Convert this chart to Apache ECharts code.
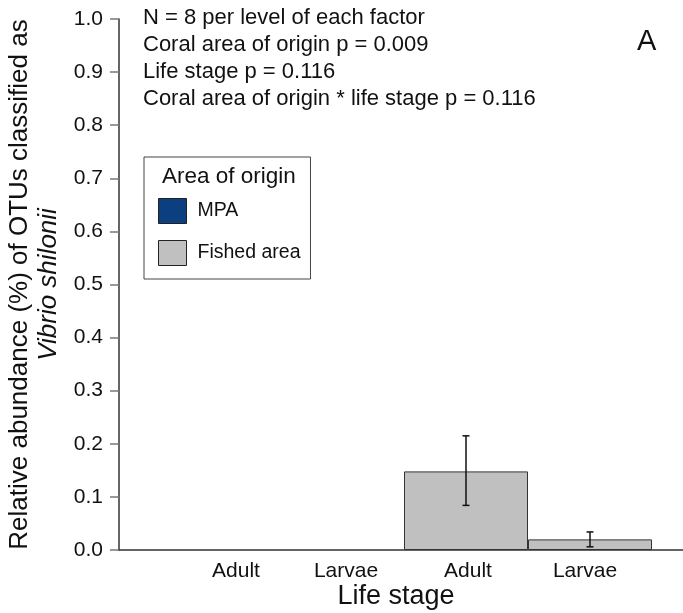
<!DOCTYPE html>
<html>
<head>
<meta charset="utf-8">
<script src="https://cdn.jsdelivr.net/npm/echarts@6/dist/echarts.min.js"></script>
<style>
  html, body { margin: 0; padding: 0; background: #fff; }
  #chart { width: 683px; height: 613px; }
</style>
</head>
<body>
<div id="chart"></div>
<script>
// Life stage categories (MPA pair, then fished-area pair)
const lifeStages = ['Adult', 'Larvae', 'Adult', 'Larvae'];
// Mean relative abundance (%) per area of origin
const mpaMean = [0, 0, '-', '-'];
const fishedMean = ['-', '-', 0.148, 0.020];
// Error bar ends for the fished-area bars
const fishedLow = ['-', '-', 0.084, 0.006];
const fishedHigh = ['-', '-', 0.215, 0.034];
// Statistics printed in the top-left corner
const statLines = [
  'N = 8 per level of each factor',
  'Coral area of origin p = 0.009',
  'Life stage p = 0.116',
  'Coral area of origin * life stage p = 0.116'
];
const seriesNames = ['MPA', 'Fished area'];

const FONT = '"Liberation Sans", Arial, Helvetica, sans-serif';
const INK = '#111';

const errorData = [];
fishedLow.forEach((lo, i) => {
  if (lo !== '-') errorData.push([i, lo, fishedHigh[i]]);
});

// horizontal nudge (px) of each category name away from its slot centre
const labelShift = [18, 4, 2, -5];
const labelPadding = s => (s >= 0 ? [0, 0, 0, 2 * s] : [0, -2 * s, 0, 0]);

const chart = echarts.init(document.getElementById('chart'), null, { renderer: 'canvas' });

chart.setOption({
  animation: false,
  backgroundColor: '#fff',
  textStyle: { fontFamily: FONT, color: INK },
  grid: [
    { left: 119, right: 0, top: 19, bottom: 63, outerBoundsMode: 'none', containLabel: false },
    { left: 156, right: 31, top: 19, bottom: 63, outerBoundsMode: 'none', containLabel: false }
  ],
  xAxis: [
    {
      gridIndex: 0, type: 'value', min: 0, max: 1,
      axisLine: { show: true, onZero: false, lineStyle: { color: '#333', width: 1.5 } },
      axisTick: { show: false }, axisLabel: { show: false }, splitLine: { show: false },
      name: 'Life stage', nameLocation: 'middle', nameGap: 33,
      nameTextStyle: { fontSize: 27, color: INK, fontFamily: FONT, padding: [0, 10, 0, 0] }
    },
    {
      gridIndex: 1, type: 'category',
      data: lifeStages.map((s, i) => ({ value: s, textStyle: { padding: labelPadding(labelShift[i]) } })),
      axisLine: { show: false }, axisTick: { show: false },
      axisLabel: { fontSize: 21, color: INK, margin: 11, fontFamily: FONT },
      splitLine: { show: false }
    }
  ],
  yAxis: [
    {
      gridIndex: 0, type: 'value', min: 0, max: 1, interval: 0.1,
      axisLine: { show: true, lineStyle: { color: '#333', width: 1.5 } },
      axisTick: { show: true, length: 9, lineStyle: { color: '#777', width: 1.5 } },
      axisLabel: { fontSize: 21, color: INK, margin: 16, fontFamily: FONT, formatter: v => v.toFixed(1) },
      splitLine: { show: false },
      name: '{a|Relative abundance (%) of OTUs classified as}\n{b|Vibrio shilonii}',
      nameLocation: 'middle', nameRotate: 90, nameGap: 56,
      nameTextStyle: {
        fontFamily: FONT,
        rich: {
          a: { fontSize: 26, color: INK, lineHeight: 29, fontFamily: FONT },
          b: { fontSize: 26, color: INK, lineHeight: 29, fontStyle: 'italic', fontFamily: FONT }
        }
      }
    },
    {
      gridIndex: 1, type: 'value', min: 0, max: 1, show: false
    }
  ],
  legend: {
    data: seriesNames,
    orient: 'vertical',
    left: 144, top: 157,
    padding: [41, 10, 13, 14],
    itemWidth: 28, itemHeight: 25, itemGap: 16,
    borderColor: '#444', borderWidth: 1,
    selectedMode: false,
    icon: 'rect',
    itemStyle: { borderColor: '#222', borderWidth: 1 },
    textStyle: { fontSize: 19.5, color: INK, fontFamily: FONT, padding: [0, 0, 0, 6] }
  },
  graphic: [
    {
      type: 'text', left: 162, top: 165,
      style: { text: 'Area of origin', font: '22.5px ' + FONT, fill: INK }
    },
    {
      type: 'text', left: 143, top: 5,
      style: { text: statLines.join('\n'), font: '22px ' + FONT, fill: INK, lineHeight: 26.7 }
    },
    {
      type: 'text', left: 637, top: 27,
      style: { text: 'A', font: '29px ' + FONT, fill: INK }
    }
  ],
  series: [
    {
      name: seriesNames[0], type: 'bar', xAxisIndex: 1, yAxisIndex: 1,
      data: mpaMean, barWidth: '100%', barGap: '-100%',
      itemStyle: { color: '#0c3f7f', borderColor: '#222', borderWidth: 0 }
    },
    {
      name: seriesNames[1], type: 'bar', xAxisIndex: 1, yAxisIndex: 1,
      data: fishedMean, barWidth: '100%', barGap: '-100%',
      itemStyle: { color: '#c0c0c0', borderColor: '#333', borderWidth: 1 }
    },
    {
      type: 'custom', xAxisIndex: 1, yAxisIndex: 1, z: 5,
      data: errorData,
      renderItem: function (params, api) {
        const x = api.value(0);
        const lo = api.coord([x, api.value(1)]);
        const hi = api.coord([x, api.value(2)]);
        const cap = 3.5;
        const st = { stroke: '#111', lineWidth: 1.5, fill: null };
        return {
          type: 'group',
          children: [
            { type: 'line', shape: { x1: hi[0], y1: hi[1], x2: lo[0], y2: lo[1] }, style: st },
            { type: 'line', shape: { x1: hi[0] - cap, y1: hi[1], x2: hi[0] + cap, y2: hi[1] }, style: st },
            { type: 'line', shape: { x1: lo[0] - cap, y1: lo[1], x2: lo[0] + cap, y2: lo[1] }, style: st }
          ]
        };
      }
    }
  ]
});
</script>
</body>
</html>
